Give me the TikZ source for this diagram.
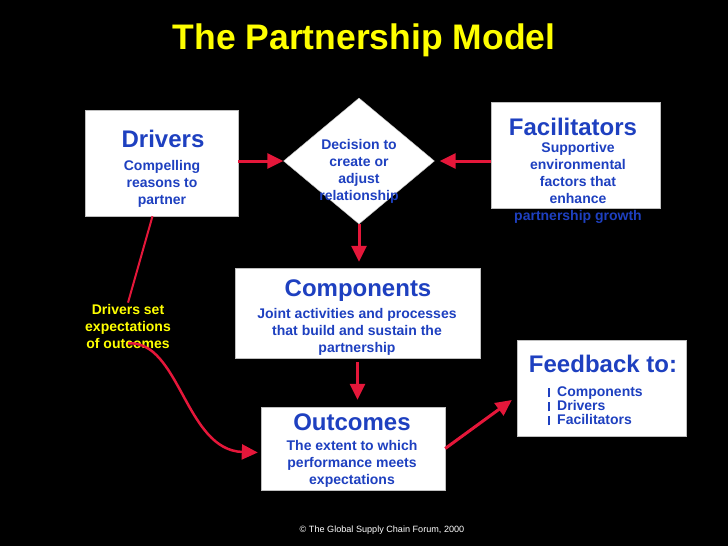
\documentclass[tikz,border=0pt]{standalone}
\usepackage{fontspec}
\setmainfont{Liberation Sans}
\usepackage{xcolor}
\definecolor{PmBlue}{HTML}{1E40C0}
\definecolor{PmRed}{HTML}{E5173A}
\definecolor{PmYellow}{HTML}{FFFF00}
\usetikzlibrary{positioning,arrows.meta,shapes.geometric,calc}

\tikzset{
  box/.style={draw=gray!50, fill=white, inner sep=0pt},
  hd/.style={text=PmBlue, inner sep=0pt, font=\bfseries\fontsize{24}{28}\selectfont},
  body/.style={text=PmBlue, inner sep=0pt, align=center, font=\bfseries\fontsize{14}{17}\selectfont},
  arr/.style={draw=PmRed, line width=3pt, -{Triangle[length=16pt,width=15pt]}},
}

\begin{document}
\begin{tikzpicture}[x=1pt,y=-1pt]
  \fill[black] (0,0) rectangle (728,546);
  \useasboundingbox (0,0) rectangle (728,546);

  \node[text=PmYellow, font=\bfseries\fontsize{35.5}{40}\selectfont] (title) at (364,40) {The Partnership Model};

  % boxes
  \node[box, minimum width=153pt, minimum height=106pt] (drv) at (161.5,163) {};
  \node[box, diamond, minimum width=151pt, minimum height=126pt] (dec) at (359,161) {};
  \node[box, minimum width=169pt, minimum height=106pt] (fac) at (575.5,155) {};
  \node[box, minimum width=245pt, minimum height=90pt] (comp) at (357.5,313) {};
  \node[box, minimum width=184pt, minimum height=83pt] (out) at (353,448.5) {};
  \node[box, minimum width=169pt, minimum height=96pt] (fb) at (601.5,388) {};

  % texts
  \node[hd] (drvhd) at (163,139) {Drivers};
  \node[body] (drvtxt) at (162,184) {Compelling\\reasons to\\partner};
  \node[body] (dectxt) at (359,171) {Decision to\\create or\\adjust\\relationship};
  \node[hd] (fachd) at (573,127) {Facilitators};
  \node[body] (factxt) at (578,183) {Supportive\\environmental\\factors that\\enhance\\partnership growth};
  \node[hd] (comphd) at (358,291) {Components};
  \node[body] (comptxt) at (357,332) {Joint activities and processes\\that build and sustain the\\partnership};
  \node[hd] (outhd) at (352,422) {Outcomes};
  \node[body] (outtxt) at (352,464) {The extent to which\\performance meets\\expectations};
  \node[hd] (fbhd) at (603,364) {Feedback to:};
  \node[body, align=left, anchor=west, font=\bfseries\fontsize{14}{14}\selectfont] (fbtxt) at (557,406)
    {\llap{\rule[-1pt]{2pt}{9pt}\hspace{7pt}}Components\\
     \llap{\rule[-1pt]{2pt}{9pt}\hspace{7pt}}Drivers\\
     \llap{\rule[-1pt]{2pt}{9pt}\hspace{7pt}}Facilitators};
  \node[body, text=PmYellow] (lbl) at (128,326) {Drivers set\\expectations\\of outcomes};

  \node[text=white, font=\fontsize{9.1}{11}\selectfont] (copy) at (382,530) {\textcopyright\ The Global Supply Chain Forum, 2000};

  % connectors
  \draw[arr] (drv.east |- dec.west) -- (dec.west);
  \draw[arr] (fac.west |- dec.east) -- ([xshift=5pt]dec.east);
  \draw[arr] (dec.south) -- ([yshift=6pt]dec.south |- comp.north);
  \draw[arr] ([yshift=-4pt]comp.south) -- ([yshift=7pt]comp.south |- out.north);
  \draw[arr] (out.east) -- ($(fb.west)+(-5,12)$);
  \draw[draw=PmRed, line width=2pt] ([xshift=-9pt]drv.south) -- ([yshift=1pt]lbl.north);
  \draw[arr, line width=2.5pt] ([yshift=5pt]lbl.south) .. controls (180,340) and (185,450) .. ([xshift=-3pt,yshift=-4pt]out.west);
\end{tikzpicture}
\end{document}
